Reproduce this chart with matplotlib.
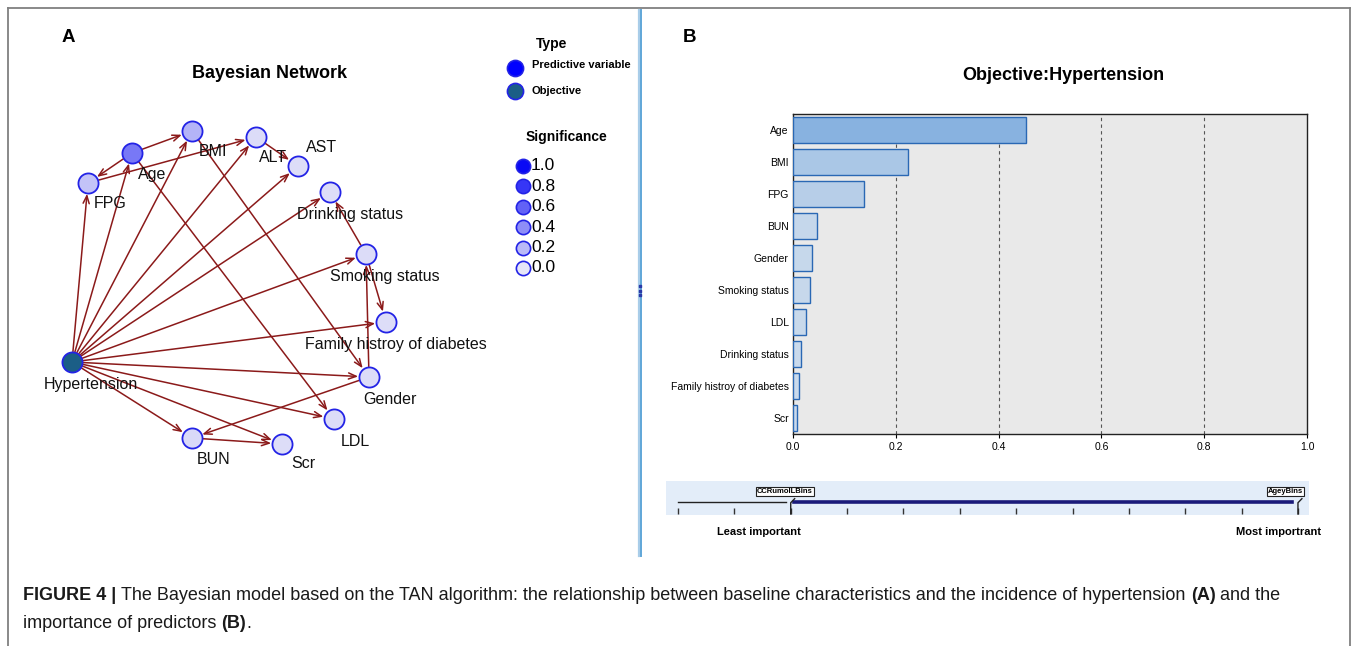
import matplotlib
matplotlib.use('Agg')
import matplotlib.pyplot as plt
from matplotlib.colors import LinearSegmentedColormap, to_rgb
import numpy as np

# ---------------- data ----------------
nodes = ['Hypertension', 'FPG', 'Age', 'BMI', 'ALT', 'AST', 'Drinking status',
         'Smoking status', 'Family histroy of diabetes', 'Gender', 'LDL', 'BUN', 'Scr']
node_type = ['Objective'] + ['Predictive variable'] * 12
node_significance = [1.0, 0.16, 0.50, 0.23, 0.05, 0.04, 0.04, 0.05, 0.04, 0.05, 0.05, 0.06, 0.04]
edges_class = [('Hypertension', n) for n in nodes[1:]]
edges_tree = [('Age', 'FPG'), ('Age', 'BMI'), ('Age', 'LDL'), ('FPG', 'ALT'), ('ALT', 'AST'),
              ('BMI', 'Gender'), ('Gender', 'Smoking status'), ('Gender', 'BUN'),
              ('Smoking status', 'Drinking status'),
              ('Smoking status', 'Family histroy of diabetes'), ('BUN', 'Scr')]

type_levels = ['Predictive variable', 'Objective']
sig_levels = [1.0, 0.8, 0.6, 0.4, 0.2, 0.0]

predictors = ['Age', 'BMI', 'FPG', 'BUN', 'Gender', 'Smoking status', 'LDL',
              'Drinking status', 'Family histroy of diabetes', 'Scr']
importance = [0.454, 0.224, 0.139, 0.047, 0.037, 0.034, 0.025, 0.015, 0.011, 0.008]
x_ticks = [0.0, 0.2, 0.4, 0.6, 0.8, 1.0]

slider_n_ticks = 12
slider_low_label = 'CCRumolLBins'
slider_high_label = 'AgeyBins'

caption_line1 = [('FIGURE 4 |', 'bold'),
                 ('The Bayesian model based on the TAN algorithm: the relationship between baseline characteristics and the incidence of hypertension', 'normal'),
                 ('(A)', 'bold'), ('and the', 'normal')]
caption_line2 = [('importance of predictors', 'normal'), ('(B)', 'bold'), ('.', 'normal', 'nospace')]

# ---------------- layout (pixels) ----------------
node_pos = {'Hypertension': (72, 362), 'FPG': (88, 183), 'Age': (132, 153), 'BMI': (192, 131),
            'ALT': (256, 137), 'AST': (298, 166), 'Drinking status': (330, 192),
            'Smoking status': (366, 254), 'Family histroy of diabetes': (386, 322),
            'Gender': (369, 377), 'LDL': (334, 419), 'BUN': (192, 438), 'Scr': (282, 444)}
label_pos = {'Hypertension': (44, 384), 'FPG': (94, 204), 'Age': (138, 175), 'BMI': (199, 152),
             'ALT': (259, 158), 'AST': (306, 148), 'Drinking status': (297, 214),
             'Smoking status': (330, 276), 'Family histroy of diabetes': (305, 345),
             'Gender': (363, 399), 'LDL': (341, 441), 'BUN': (197, 460), 'Scr': (291, 464)}

W, H = 1358, 646
fig = plt.figure(figsize=(W / 100, H / 100), dpi=100)
plt.rcParams['font.family'] = ['Liberation Sans', 'DejaVu Sans']

base = fig.add_axes([0, 0, 1, 1])
base.set_xlim(0, W)
base.set_ylim(H, 0)
base.axis('off')

# frame & divider
frame_c = '#808080'
base.plot([8, 8], [H, 8], color=frame_c, lw=1.3)
base.plot([8, 1350], [8, 8], color=frame_c, lw=1.3)
base.plot([1350, 1350], [8, H], color=frame_c, lw=1.3)
base.plot([638.5, 638.5], [10, 556], color='#a9cde9', lw=1.6)
base.plot([641.2, 641.2], [10, 556], color='#5fa6d8', lw=1.4)
base.scatter([640, 640, 640], [286, 290.5, 295], s=3, marker='s', color='#2a3aa8', zorder=3)

# panel labels
base.text(68, 38, 'A', fontsize=13.5, fontweight='bold', ha='center', va='center')
base.text(690, 38, 'B', fontsize=13.5, fontweight='bold', ha='center', va='center')
base.text(270, 73, 'Bayesian Network', fontsize=13, fontweight='bold', ha='center', va='center')

# network
sig_cmap = LinearSegmentedColormap.from_list('sig', ['#e6e6f8', '#0a0af5'])
objective_color = '#1b5e86'
node_edge = '#2323e6'
edge_color = '#8b1a1a'
for src, dst in edges_class + edges_tree:
    base.annotate('', xy=node_pos[dst], xytext=node_pos[src],
                  arrowprops=dict(arrowstyle='->,head_length=0.55,head_width=0.22',
                                  color=edge_color, lw=1.1, shrinkA=7.5, shrinkB=7.8),
                  zorder=2)
for n, t, s in zip(nodes, node_type, node_significance):
    x, y = node_pos[n]
    fc = objective_color if t == 'Objective' else sig_cmap(s)
    base.scatter([x], [y], s=210, facecolor=fc, edgecolor=node_edge, linewidths=1.3, zorder=4)
    lx, ly = label_pos[n]
    base.text(lx, ly, n, fontsize=11.5, ha='left', va='center', color='#111111', zorder=5)

# legend
base.text(552, 44, 'Type', fontsize=10, fontweight='bold', ha='center', va='center')
type_colors = {'Predictive variable': '#0000ff', 'Objective': objective_color}
for i, t in enumerate(type_levels):
    y = 68 + i * 23
    base.scatter([515], [y], s=135, facecolor=type_colors[t], edgecolor=node_edge, linewidths=1.2, zorder=4)
    base.text(532, y - 3 if i == 0 else y, t, fontsize=8, fontweight='bold', ha='left', va='center')
base.text(566, 137, 'Significance', fontsize=10, fontweight='bold', ha='center', va='center')
for i, s in enumerate(sig_levels):
    y = 166 + i * 20.4
    base.scatter([523], [y], s=105, facecolor=sig_cmap(s), edgecolor=node_edge, linewidths=1.2, zorder=4)
    base.text(531, y, f'{s:.1f}', fontsize=12.5, ha='left', va='center')

# ---------------- bar chart ----------------
narrow = ['Liberation Sans Narrow', 'Liberation Sans', 'DejaVu Sans']
axb = fig.add_axes([793 / W, 1 - 434 / H, (1307 - 793) / W, (434 - 114) / H])
axb.set_facecolor('#e9e9e9')
ypos = np.arange(len(predictors))
light = np.array(to_rgb('#ccdbec'))
dark = np.array(to_rgb('#88b2e0'))
vmax = max(importance)
bar_colors = [tuple(light + (dark - light) * (v / vmax)) for v in importance]
axb.barh(ypos, importance, height=0.8, color=bar_colors, edgecolor='#2a68b4', linewidth=1.0, zorder=3)
axb.set_xlim(0, 1)
axb.set_ylim(len(predictors) - 0.5, -0.5)
axb.set_xticks(x_ticks)
axb.set_xticklabels([f'{v:.1f}' for v in x_ticks], fontsize=7.5, family=narrow)
axb.set_yticks(ypos)
axb.set_yticklabels(predictors, fontsize=7.5, family=narrow)
axb.tick_params(axis='y', length=0, pad=3)
axb.tick_params(axis='x', length=3, pad=3)
for v in x_ticks[1:-1]:
    axb.axvline(v, color='#555555', lw=0.8, ls=(0, (3, 3)), zorder=1)
for sp in axb.spines.values():
    sp.set_color('#222222')
    sp.set_linewidth(1.0)
base.text(1063, 75, 'Objective:Hypertension', fontsize=13, fontweight='bold', ha='center', va='center')

# ---------------- importance slider ----------------
x0_px, x1_px, tick0_px, tick_step = 666, 1309, 678, 56.36
axs = fig.add_axes([x0_px / W, 1 - 515 / H, (x1_px - x0_px) / W, 34 / H])
axs.set_facecolor('#e3edf9')
axs.set_xlim((x0_px - tick0_px) / tick_step, (x1_px - tick0_px) / tick_step)
axs.set_ylim(0, 1)
axs.set_xticks([])
axs.set_yticks([])
for sp in axs.spines.values():
    sp.set_visible(False)
low_idx, high_idx = 2, slider_n_ticks - 1
ticks = np.arange(slider_n_ticks)
axs.vlines(ticks, 0.03, 0.2, color='#333333', lw=1.0)
axs.plot([0, low_idx - 0.08], [0.38, 0.38], color='#222222', lw=1.0)
axs.plot([low_idx + 0.05, high_idx - 0.1], [0.38, 0.38], color='#1a1a7a', lw=2.6)
for idx, lbl, xc in [(low_idx, slider_low_label, low_idx - 0.1), (high_idx, slider_high_label, high_idx - 0.22)]:
    axs.plot([idx, idx, idx + 0.07], [0.03, 0.36, 0.48], color='#222222', lw=1.0)
    axs.text(xc, 0.7, lbl, fontsize=5.5, fontweight='bold', ha='center', va='center', family=narrow,
             bbox=dict(boxstyle='square,pad=0.15', facecolor='white', edgecolor='#222222', lw=0.8))
base.text(759, 532, 'Least important', fontsize=8, fontweight='bold', ha='center', va='center')
base.text(1279, 532, 'Most importrant', fontsize=8, fontweight='bold', ha='center', va='center')

# ---------------- caption ----------------
cap_fs = 13
fig.canvas.draw()
rend = fig.canvas.get_renderer()
def text_w(s, weight):
    t = base.text(0, 0, s, fontsize=cap_fs, fontweight=weight)
    w = t.get_window_extent(renderer=rend).width
    t.remove()
    return w
space_w = text_w('a a', 'normal') - text_w('aa', 'normal')

def draw_line(x, y, runs):
    for k, run in enumerate(runs):
        s, weight = run[0], run[1]
        if k > 0 and not (len(run) > 2 and run[2] == 'nospace'):
            x += space_w
        t = base.text(x, y, s, fontsize=cap_fs, fontweight=weight, ha='left', va='center', color='#1a1a1a')
        x += t.get_window_extent(renderer=rend).width
    return x

draw_line(23, 596, caption_line1)
draw_line(23, 623, caption_line2)

fig.savefig('out.png', dpi=100)
